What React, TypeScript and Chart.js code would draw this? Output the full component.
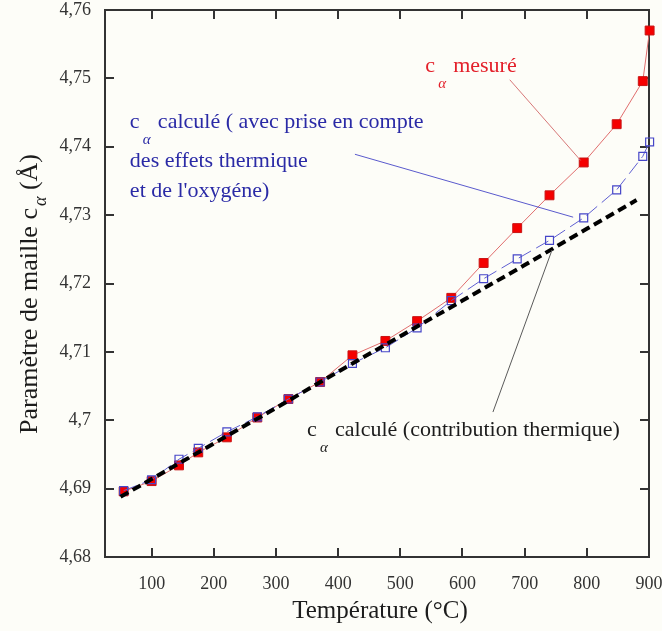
import React, { useEffect, useRef } from "react";
import { Chart, registerables } from "chart.js";

Chart.register(...registerables);

// ---- data ----
const temperatures = [55, 100, 144, 175, 221, 270, 320, 371, 423, 476, 527, 582, 634, 688, 740, 795, 848, 890, 901];
const measuredC = [4.6896, 4.6911, 4.6934, 4.6953, 4.6975, 4.7004, 4.7031, 4.7056, 4.7095, 4.7116, 4.7145, 4.7179, 4.7230, 4.7281, 4.7329, 4.7377, 4.7433, 4.7496, 4.7570];
const calculatedC = [4.6897, 4.6913, 4.6943, 4.6959, 4.6983, 4.7005, 4.7031, 4.7056, 4.7083, 4.7106, 4.7135, 4.7175, 4.7207, 4.7236, 4.7263, 4.7296, 4.7337, 4.7386, 4.7407];
const thermalT = [50, 100, 200, 300, 400, 500, 600, 700, 800, 880];
const thermalC = [4.6888, 4.6914, 4.6966, 4.7018, 4.7071, 4.7123, 4.7175, 4.7227, 4.7280, 4.7322];
const xTickValues = [100, 200, 300, 400, 500, 600, 700, 800, 900];
const yTickValues = [4.68, 4.69, 4.70, 4.71, 4.72, 4.73, 4.74, 4.75, 4.76];

const xTitle = "Température (°C)";
const yTitleMain = "Paramètre de maille c";
const yTitleSub = "α";
const yTitleEnd = " (Å)";
const labelMeasured = ["mesuré"];
const labelCalcFull = ["calculé ( avec prise en compte", "des effets thermique", "et de l'oxygéne)"];
const labelCalcThermal = ["calculé (contribution thermique)"];

const FONT = '"Liberation Serif", "Times New Roman", serif';

type Note = {
  lines: string[];
  at: [number, number];
  lineOffsets: number[];
  color: string;
  leader: [[number, number], [number, number]];
  leaderColor: string;
};

const notes: Note[] = [
  {
    lines: labelMeasured,
    at: [540, 4.7509],
    lineOffsets: [0],
    color: "#e3202a",
    leader: [[676, 4.7498], [790, 4.738]],
    leaderColor: "rgb(215,120,120)",
  },
  {
    lines: labelCalcFull,
    at: [65, 4.7427],
    lineOffsets: [0, 39, 69],
    color: "#2a2aa6",
    leader: [[427, 4.7389], [778, 4.7297]],
    leaderColor: "rgb(90,90,205)",
  },
  {
    lines: labelCalcThermal,
    at: [350, 4.6977],
    lineOffsets: [0],
    color: "#1c1c1c",
    leader: [[649, 4.7012], [744, 4.7249]],
    leaderColor: "rgb(90,90,90)",
  },
];

const pts = (xs: number[], ys: number[]) => xs.map((x, i) => ({ x, y: ys[i] }));

export default function App() {
  const ref = useRef<HTMLCanvasElement>(null);

  useEffect(() => {
    const canvas = ref.current;
    if (!canvas) return;

    const background = {
      id: "background",
      beforeDraw(chart: any) {
        const { ctx, width, height } = chart;
        ctx.save();
        ctx.fillStyle = "#fdfdf8";
        ctx.fillRect(0, 0, width, height);
        ctx.restore();
      },
    };

    const frame = {
      id: "frame",
      beforeDatasetsDraw(chart: any) {
        const { ctx, chartArea: a, scales } = chart;
        const x = scales.x;
        const y = scales.y;
        ctx.save();
        ctx.strokeStyle = "#333";
        ctx.lineWidth = 2;
        ctx.strokeRect(a.left, a.top, a.right - a.left, a.bottom - a.top);
        const L = 9;
        ctx.beginPath();
        x.ticks.forEach((t: any) => {
          const px = Math.round(x.getPixelForValue(t.value));
          ctx.moveTo(px, a.bottom);
          ctx.lineTo(px, a.bottom - L);
          ctx.moveTo(px, a.top);
          ctx.lineTo(px, a.top + L);
        });
        y.ticks.forEach((t: any) => {
          const py = Math.round(y.getPixelForValue(t.value));
          ctx.moveTo(a.left, py);
          ctx.lineTo(a.left + L, py);
          ctx.moveTo(a.right, py);
          ctx.lineTo(a.right - L, py);
        });
        ctx.stroke();
        ctx.restore();
      },
    };

    const annotations = {
      id: "annotations",
      afterDatasetsDraw(chart: any) {
        const { ctx, chartArea: a, scales } = chart;
        const x = scales.x;
        const y = scales.y;
        ctx.save();
        // leader lines
        notes.forEach((n) => {
          ctx.strokeStyle = n.leaderColor;
          ctx.lineWidth = 1;
          ctx.beginPath();
          ctx.moveTo(x.getPixelForValue(n.leader[0][0]), y.getPixelForValue(n.leader[0][1]));
          ctx.lineTo(x.getPixelForValue(n.leader[1][0]), y.getPixelForValue(n.leader[1][1]));
          ctx.stroke();
        });
        // texts
        ctx.textAlign = "left";
        ctx.textBaseline = "alphabetic";
        notes.forEach((n) => {
          const px = x.getPixelForValue(n.at[0]);
          const py = y.getPixelForValue(n.at[1]);
          ctx.fillStyle = n.color;
          ctx.font = `22px ${FONT}`;
          ctx.fillText("c", px, py);
          ctx.font = `italic 15px ${FONT}`;
          ctx.fillText("α", px + 13, py + 16);
          ctx.font = `22px ${FONT}`;
          n.lines.forEach((line, i) => {
            ctx.fillText(line, i === 0 ? px + 28 : px, py + n.lineOffsets[i]);
          });
        });
        // axis titles
        ctx.fillStyle = "#1c1c1c";
        ctx.font = `25px ${FONT}`;
        ctx.textAlign = "center";
        ctx.fillText(xTitle, (a.left + a.right) / 2 + 3, 618);

        ctx.translate(37, 294);
        ctx.rotate(-Math.PI / 2);
        ctx.textAlign = "left";
        ctx.font = `26px ${FONT}`;
        const w1 = ctx.measureText(yTitleMain).width;
        ctx.font = `italic 18px ${FONT}`;
        const w2 = ctx.measureText(yTitleSub).width;
        ctx.font = `26px ${FONT}`;
        const w3 = ctx.measureText(yTitleEnd).width;
        const total = w1 + 2 + w2 + w3;
        let cx = -total / 2;
        ctx.fillText(yTitleMain, cx, 0);
        cx += w1 + 2;
        ctx.font = `italic 18px ${FONT}`;
        ctx.fillText(yTitleSub, cx, 9);
        cx += w2;
        ctx.font = `26px ${FONT}`;
        ctx.fillText(yTitleEnd, cx, 0);
        ctx.restore();
      },
    };

    const chart = new Chart(canvas, {
      type: "line",
      data: {
        datasets: [
          {
            label: "c calculé (contribution thermique)",
            data: pts(thermalT, thermalC),
            borderColor: "#000",
            borderWidth: 4,
            borderDash: [9, 5],
            pointRadius: 0,
            tension: 0,
            clip: false,
          } as any,
          {
            label: "c calculé (effets thermique et oxygène)",
            data: pts(temperatures, calculatedC),
            borderColor: "rgb(95,95,210)",
            borderWidth: 1,
            borderDash: [14, 6],
            pointStyle: "rect",
            pointRadius: 5.6,
            pointBackgroundColor: "rgba(0,0,0,0)",
            pointBorderColor: "rgb(70,70,200)",
            pointBorderWidth: 1.2,
            tension: 0,
            clip: false,
          },
          {
            label: "c mesuré",
            data: pts(temperatures, measuredC),
            borderColor: "rgb(225,110,110)",
            borderWidth: 1,
            pointStyle: "rect",
            pointRadius: 6.3,
            pointBackgroundColor: "rgb(245,0,0)",
            pointBorderColor: "rgb(200,20,20)",
            pointBorderWidth: 1,
            tension: 0,
            clip: false,
          },
        ],
      },
      options: {
        animation: false,
        responsive: false,
        devicePixelRatio: 1,
        layout: { autoPadding: false, padding: { left: 0, right: 13, top: 10, bottom: 0 } },
        plugins: {
          legend: { display: false },
          tooltip: { enabled: false },
        },
        scales: {
          x: {
            type: "linear",
            min: 25,
            max: 900,
            afterBuildTicks: (scale: any) => {
              scale.ticks = xTickValues.map((v) => ({ value: v }));
            },
            afterFit: (scale: any) => {
              scale.height = 74;
              scale.paddingLeft = 0;
              scale.paddingRight = 0;
            },
            ticks: {
              padding: 16,
              color: "#333",
              font: { family: FONT, size: 18 },
              maxRotation: 0,
              autoSkip: false,
              callback: (v: any) => String(v),
            },
            grid: { display: false, drawTicks: false },
            border: { display: false },
          },
          y: {
            type: "linear",
            min: 4.68,
            max: 4.76,
            afterBuildTicks: (scale: any) => {
              scale.ticks = yTickValues.map((v) => ({ value: v }));
            },
            afterFit: (scale: any) => {
              scale.width = 105;
              scale.paddingTop = 0;
              scale.paddingBottom = 0;
            },
            ticks: {
              padding: 14,
              color: "#333",
              font: { family: FONT, size: 18 },
              autoSkip: false,
              callback: (v: any) => String(Math.round(Number(v) * 100) / 100).replace(".", ","),
            },
            grid: { display: false, drawTicks: false },
            border: { display: false },
          },
        },
      },
      plugins: [background, frame, annotations],
    });

    return () => chart.destroy();
  }, []);

  return (
    <div style={{ position: "absolute", left: 0, top: 0, width: 662, height: 631 }}>
      <canvas ref={ref} width={662} height={631} style={{ display: "block" }} />
    </div>
  );
}
